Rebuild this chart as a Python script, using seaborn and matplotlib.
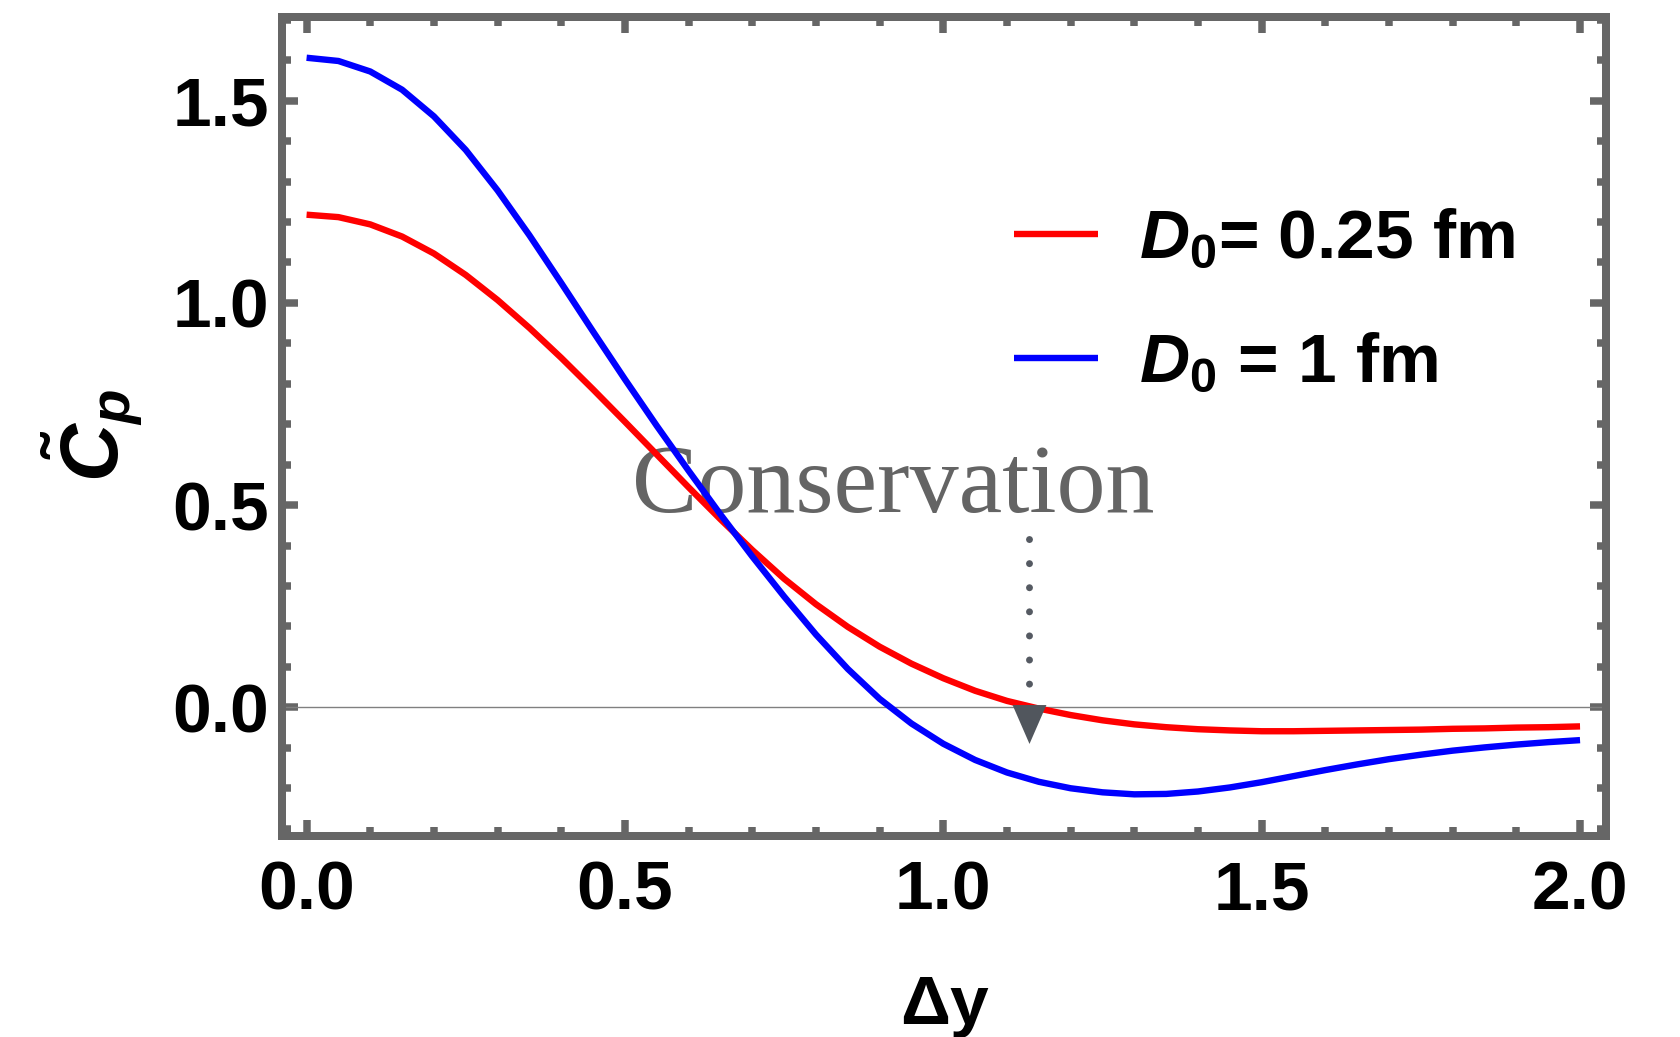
import matplotlib
matplotlib.use("Agg")
import numpy as np
import pandas as pd
import seaborn as sns
import matplotlib.pyplot as plt
from matplotlib.ticker import MultipleLocator, FormatStrFormatter

# ---------------- data ----------------
dy = [0.00, 0.05, 0.10, 0.15, 0.20, 0.25, 0.30, 0.35, 0.40, 0.45,
      0.50, 0.55, 0.60, 0.65, 0.70, 0.75, 0.80, 0.85, 0.90, 0.95,
      1.00, 1.05, 1.10, 1.15, 1.20, 1.25, 1.30, 1.35, 1.40, 1.45,
      1.50, 1.55, 1.60, 1.65, 1.70, 1.75, 1.80, 1.85, 1.90, 1.95, 2.00]

cp_d0_025 = [1.218, 1.212, 1.194, 1.164, 1.122, 1.069, 1.007, 0.938, 0.864, 0.786,
             0.706, 0.625, 0.544, 0.465, 0.389, 0.318, 0.255, 0.199, 0.150, 0.108,
             0.072, 0.041, 0.016, -0.003, -0.019, -0.032, -0.042, -0.049, -0.054, -0.057,
             -0.059, -0.059, -0.058, -0.057, -0.056, -0.055, -0.053, -0.052, -0.050, -0.049, -0.047]

cp_d0_1 = [1.606, 1.598, 1.572, 1.527, 1.461, 1.378, 1.278, 1.167, 1.049, 0.929,
           0.811, 0.696, 0.585, 0.477, 0.373, 0.274, 0.180, 0.095, 0.021, -0.040,
           -0.090, -0.130, -0.161, -0.184, -0.200, -0.210, -0.215, -0.214, -0.208, -0.198,
           -0.185, -0.170, -0.155, -0.141, -0.128, -0.117, -0.107, -0.099, -0.092, -0.086, -0.081]

series_labels = [r"$D_0$= 0.25 fm", r"$D_0$ = 1 fm"]
series_colors = ["#ff0000", "#0000ff"]
x_ticks = [0.0, 0.5, 1.0, 1.5, 2.0]
y_ticks = [0.0, 0.5, 1.0, 1.5]
x_label = "Δy"
y_label = r"$\tilde{C}_p$"
annot_text = "Conservation"
annot_dy = 1.134          # where the red curve crosses zero
annot_text_pos = (0.922, 0.484)
annot_dots = (0.416, 0.059)
annot_head_y = -0.040

# ---------------- style ----------------
sns.set_theme(style="ticks")
plt.rcParams.update({
    "font.family": ["Liberation Sans", "DejaVu Sans"],
    "font.weight": "bold",
    "mathtext.fontset": "custom",
    "mathtext.rm": "Liberation Sans:bold",
    "mathtext.bf": "Liberation Sans:bold",
    "mathtext.it": "Liberation Sans:italic:bold",
    "mathtext.sf": "Liberation Sans:bold",
    "axes.unicode_minus": False,
    "text.color": "black",
    "axes.labelcolor": "black",
    "xtick.labelcolor": "black",
    "ytick.labelcolor": "black",
    "legend.labelcolor": "black",
})

frame_col = "#666666"

fig = plt.figure(figsize=(16.8, 10.37), dpi=100)
ax = fig.add_axes([0.16786, 0.19383, 0.78810, 0.78949])

n = len(dy)
df = pd.DataFrame({
    "dy": dy + dy,
    "cp": cp_d0_025 + cp_d0_1,
    "series": [series_labels[0]] * n + [series_labels[1]] * n,
})

sns.lineplot(data=df, x="dy", y="cp", hue="series", hue_order=series_labels,
             palette=series_colors, linewidth=4.6, ax=ax, sort=False,
             estimator=None, zorder=3)
for ln in ax.get_lines():
    ln.set_solid_joinstyle("round")
    ln.set_solid_capstyle("butt")

ax.axhline(0, color="#808080", lw=1.0, zorder=1)

ax.set_xlim(-0.0386, 2.0408)
ax.set_ylim(-0.318, 1.706)
ax.set_xticks(x_ticks)
ax.set_yticks(y_ticks)
ax.xaxis.set_minor_locator(MultipleLocator(0.1))
ax.yaxis.set_minor_locator(MultipleLocator(0.1))
ax.xaxis.set_major_formatter(FormatStrFormatter("%.1f"))
ax.yaxis.set_major_formatter(FormatStrFormatter("%.1f"))

for s in ax.spines.values():
    s.set_linewidth(5.76)
    s.set_color(frame_col)
    s.set_capstyle("projecting")

ax.tick_params(which="both", direction="in", top=True, right=True,
               color=frame_col, width=5.4, labelsize=50, labelcolor="black")
ax.tick_params(which="major", length=11.3)
ax.tick_params(which="minor", length=6.5)
ax.tick_params(axis="x", which="major", pad=17)
ax.tick_params(axis="y", which="major", pad=9.5)
for lab in ax.get_xticklabels() + ax.get_yticklabels():
    lab.set_fontweight("bold")

ax.set_xlabel(x_label, fontsize=50, fontweight="bold", labelpad=36, color="black")
ax.set_ylabel(y_label, fontsize=58, labelpad=0, color="black")
ax.yaxis.set_label_coords(-0.103, 0.49)

# legend
handles, labels = ax.get_legend_handles_labels()
leg = ax.legend(handles, labels, loc="center left",
                bbox_to_anchor=(1014 / 1680, 1 - 302.5 / 1037),
                bbox_transform=fig.transFigure, frameon=False,
                borderpad=0, borderaxespad=0, handlelength=1.21,
                handletextpad=0.596, labelspacing=0.86,
                prop={"family": "Liberation Sans", "weight": "bold", "size": 50})
for h in leg.get_lines():
    h.set_linewidth(4.6)
for t in leg.get_texts():
    t.set_color("black")

# annotation
ax.text(annot_text_pos[0], annot_text_pos[1], annot_text, ha="center", va="baseline",
        family="Liberation Serif", fontweight="normal", fontsize=70.6,
        color="#646464", zorder=2)
ax.plot([annot_dy, annot_dy], list(annot_dots), color="#555a62", lw=5,
        linestyle=(0, (0.01, 3.46)), dash_capstyle="round", zorder=5)
ax.plot([annot_dy], [annot_head_y], linestyle="none",
        marker=[(-0.87, 1), (0.87, 1), (0, -1)], markersize=28,
        color="#51565d", markeredgewidth=0, zorder=6)

fig.savefig("out.png", dpi=100)
